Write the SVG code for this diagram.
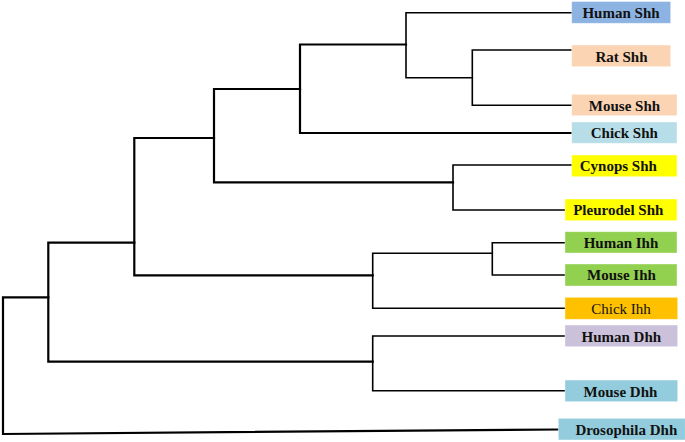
<svg xmlns="http://www.w3.org/2000/svg" width="685" height="442" viewBox="0 0 685 442">
<style>
.thick{fill:none;stroke:#000;stroke-width:2.2;stroke-linecap:square;stroke-linejoin:miter}
.thin{fill:none;stroke:#000;stroke-width:1.6;stroke-linecap:square;stroke-linejoin:miter}
.lbl{font-family:"Liberation Serif","Times New Roman",serif;font-size:15px;font-weight:bold;fill:#111;text-anchor:middle}
.reg{font-weight:normal}
.box{stroke:#fff;stroke-opacity:0.5;stroke-width:0.8}
</style>
<rect width="685" height="442" fill="#fff"/>
<g id="connectors">
<path class="thick" d="M3,297.3 V434 M3,297.3 H48.3 M3,434 L558,429.5"/>
<path class="thick" d="M48.3,242.7 V361.7 M48.3,242.7 H134.3 M48.3,361.7 H372.7"/>
<path class="thick" d="M134.3,138 V275.3 M134.3,138 H214 M134.3,275.3 H372.7"/>
<path class="thick" d="M214,89 V182.3 M214,89 H300 M214,182.3 H453"/>
<path class="thick" d="M300,44.5 V133 M300,44.5 H406 M300,133 H571.7"/>
<path class="thin" d="M406,12.7 V77.7 M406,12.7 H571.7 M406,77.7 H472.3"/>
<path class="thin" d="M472.3,50 V105.3 M472.3,50 H571.7 M472.3,105.3 H571.7"/>
<path class="thin" d="M453,165 V210 M453,165 H571.7 M453,210 H565"/>
<path class="thin" d="M372.7,253.3 V308.3 M372.7,253.3 H492.3 M372.7,308.3 H565"/>
<path class="thin" d="M492.3,242.7 V275 M492.3,242.7 H565 M492.3,275 H565"/>
<path class="thin" d="M372.7,336 V390.7 M372.7,336 H565 M372.7,390.7 H565"/>
</g>
<g id="human-shh"><rect class="box" x="571.7" y="1.5" width="99" height="21.8" fill="#8DB3E2"/><text class="lbl" x="621" y="17.5">Human Shh</text></g>
<g id="rat-shh"><rect class="box" x="571.7" y="45" width="99" height="21.7" fill="#FBD4B4"/><text class="lbl" x="621.5" y="62">Rat Shh</text></g>
<g id="mouse-shh"><rect class="box" x="571.7" y="94.3" width="105.3" height="21.4" fill="#FBD4B4"/><text class="lbl" x="624.5" y="111">Mouse Shh</text></g>
<g id="chick-shh"><rect class="box" x="571.7" y="122" width="105.3" height="21.3" fill="#B7DEE8"/><text class="lbl" x="624.3" y="138.3">Chick Shh</text></g>
<g id="cynops-shh"><rect class="box" x="571.7" y="155" width="105.3" height="21.7" fill="#FFFF00"/><text class="lbl" x="618.3" y="170.7">Cynops Shh</text></g>
<g id="pleurodel-shh"><rect class="box" x="565" y="199" width="112" height="21.7" fill="#FFFF00"/><text class="lbl" x="618.3" y="215">Pleurodel Shh</text></g>
<g id="human-ihh"><rect class="box" x="565" y="231.7" width="112" height="21.3" fill="#92D050"/><text class="lbl" x="621" y="247.7">Human Ihh</text></g>
<g id="mouse-ihh"><rect class="box" x="565" y="264" width="112" height="22" fill="#92D050"/><text class="lbl" x="621.5" y="280">Mouse Ihh</text></g>
<g id="chick-ihh"><rect class="box" x="565" y="297.3" width="112.7" height="22" fill="#FFC000"/><text class="lbl reg" x="621" y="314">Chick Ihh</text></g>
<g id="human-dhh"><rect class="box" x="565" y="325" width="112.7" height="21.7" fill="#CCC1DA"/><text class="lbl" x="621.3" y="341.7">Human Dhh</text></g>
<g id="mouse-dhh"><rect class="box" x="565" y="380" width="112.7" height="21.7" fill="#93CDDD"/><text class="lbl" x="620.5" y="396.7">Mouse Dhh</text></g>
<g id="drosophila-dhh"><rect class="box" x="558.3" y="418.3" width="127" height="21.7" fill="#93CDDD"/><text class="lbl" x="626.3" y="435">Drosophila Dhh</text></g>
</svg>
